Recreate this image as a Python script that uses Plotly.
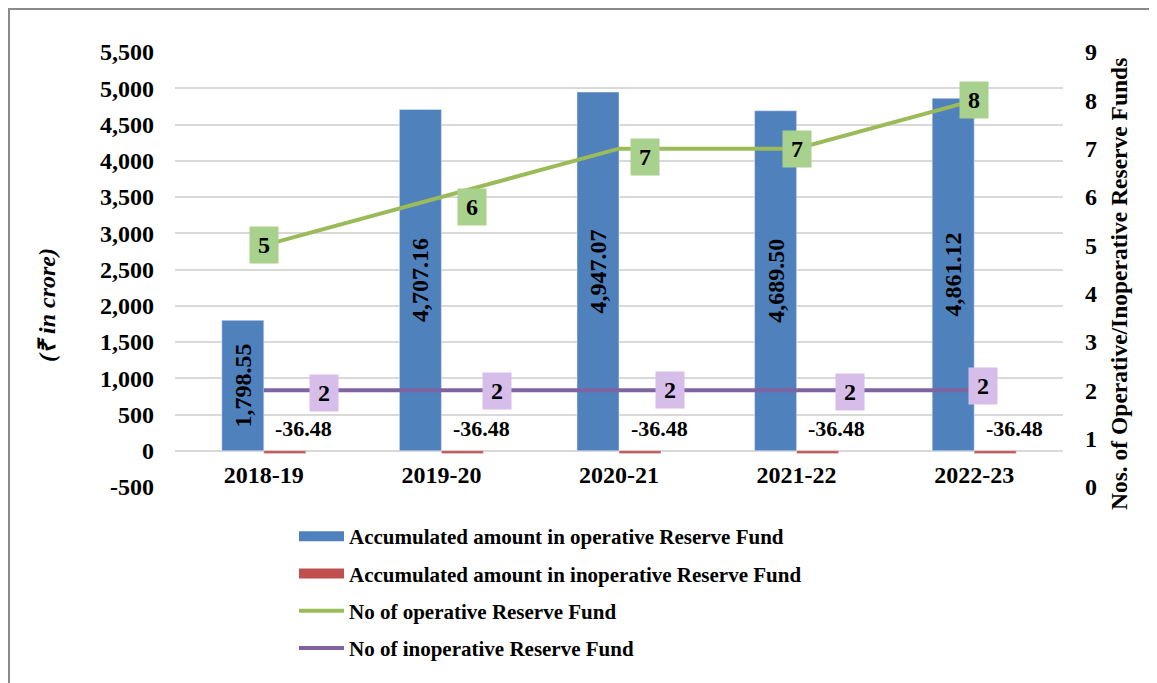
"""Reserve fund chart: accumulated amounts (bars) and number of funds (lines)."""
import plotly.graph_objects as go

YEARS = ["2018-19", "2019-20", "2020-21", "2021-22", "2022-23"]
AMT_OPERATIVE = [1798.55, 4707.16, 4947.07, 4689.50, 4861.12]
AMT_INOPERATIVE = [-36.48, -36.48, -36.48, -36.48, -36.48]
NO_OPERATIVE = [5, 6, 7, 7, 8]
NO_INOPERATIVE = [2, 2, 2, 2, 2]

LEFT_TICKS = list(range(-500, 5501, 500))
RIGHT_TICKS = list(range(0, 10))

NAMES = [
    "Accumulated amount in operative Reserve Fund",
    "Accumulated amount in inoperative Reserve Fund",
    "No of operative Reserve Fund",
    "No of inoperative Reserve Fund",
]

BLUE, RED, GREEN, PURPLE = "#4F81BD", "#C0504D", "#9BBB59", "#8064A2"
GREEN_BOX, PURPLE_BOX = "#A9D18E", "#D7BDEA"
FONT = "Liberation Serif, Times New Roman, serif"

# label nudges in px (as placed in the original chart)
GREEN_SHIFT = [(0, 0), (31, -10), (26, -8), (0, 0), (0, 0)]
PURPLE_SHIFT = [(60, -3), (56, -1), (51, 0), (53, -2), (9, 4)]

# page size and plot box in page pixels; the page body has an 8px margin
W, H = 1157, 683
OFF = 8
L, R, T, B = 175, 1063, 52, 487


def px_x(x):
    return (x - L) / (R - L)


def px_y(y):
    return (B - y) / (B - T)


def fmt(v):
    return f"{v:,.2f}"


fig = go.Figure()

fig.add_trace(
    go.Bar(
        x=YEARS,
        y=AMT_OPERATIVE,
        name=NAMES[0],
        marker_color=BLUE,
        text=[fmt(v) for v in AMT_OPERATIVE],
        textposition="inside",
        insidetextanchor="middle",
        textangle=-90,
        insidetextfont=dict(color="black", size=24, family=FONT, weight="bold"),
        showlegend=False,
    )
)
fig.add_trace(
    go.Bar(
        x=YEARS,
        y=AMT_INOPERATIVE,
        name=NAMES[1],
        marker_color=RED,
        showlegend=False,
    )
)
fig.add_trace(
    go.Scatter(
        x=YEARS,
        y=NO_OPERATIVE,
        name=NAMES[2],
        mode="lines",
        line=dict(color=GREEN, width=4),
        yaxis="y2",
        showlegend=False,
    )
)
fig.add_trace(
    go.Scatter(
        x=YEARS,
        y=NO_INOPERATIVE,
        name=NAMES[3],
        mode="lines",
        line=dict(color=PURPLE, width=4),
        yaxis="y2",
        showlegend=False,
    )
)

# legend entries (wide bar swatches like the original)
for i, (name, color, width) in enumerate(
    zip(NAMES, [BLUE, RED, GREEN, PURPLE], [12, 12, 4, 4])
):
    fig.add_trace(
        go.Scatter(
            x=[None],
            y=[None],
            name=name,
            mode="lines",
            line=dict(color=color, width=width),
            legendgroup=f"g{i}",
        )
    )

annotations = []
for yr, v in zip(YEARS, AMT_INOPERATIVE):
    annotations.append(
        dict(x=yr, y=v, xref="x", yref="y", text=f"{v:.2f}", showarrow=False,
             xshift=40, yshift=25, font=dict(size=22))
    )
for yr, v, (dx, dy) in zip(YEARS, NO_OPERATIVE, GREEN_SHIFT):
    annotations.append(
        dict(x=yr, y=v, xref="x", yref="y2", text=str(v), showarrow=False,
             xshift=dx, yshift=dy, bgcolor=GREEN_BOX, width=20, height=28,
             borderpad=4, font=dict(size=24))
    )
for yr, v, (dx, dy) in zip(YEARS, NO_INOPERATIVE, PURPLE_SHIFT):
    annotations.append(
        dict(x=yr, y=v, xref="x", yref="y2", text=str(v), showarrow=False,
             xshift=dx, yshift=dy, bgcolor=PURPLE_BOX, width=20, height=28,
             borderpad=4, font=dict(size=24))
    )
annotations.append(
    dict(x=px_x(47), y=px_y(305), xref="paper", yref="paper",
         xanchor="center", yanchor="middle",
         text="<i>(₹ in crore)</i>", textangle=-90, showarrow=False,
         font=dict(size=24))
)
annotations.append(
    dict(x=px_x(1119), y=px_y(284), xref="paper", yref="paper",
         xanchor="center", yanchor="middle",
         text="Nos. of Operative/Inoperative Reserve Funds", textangle=-90,
         showarrow=False, font=dict(size=23.5))
)

fig.update_layout(
    width=W - OFF,
    height=H - OFF,
    margin=dict(l=L - OFF, r=W - R, t=T - OFF, b=H - B, pad=0, autoexpand=False),
    paper_bgcolor="white",
    plot_bgcolor="white",
    font=dict(family=FONT, size=24, color="black", weight="bold"),
    barmode="group",
    bargap=0.527,
    bargroupgap=0,
    annotations=annotations,
    legend=dict(
        x=px_x(294),
        y=px_y(516),
        xanchor="left",
        yanchor="top",
        traceorder="grouped",
        tracegroupgap=7,
        itemwidth=45,
        font=dict(size=21),
        bgcolor="rgba(0,0,0,0)",
    ),
    shapes=[
        dict(type="rect", xref="paper", yref="paper",
             x0=px_x(OFF + 1), x1=px_x(1200), y0=px_y(720), y1=px_y(OFF + 1),
             line=dict(color="#8A8A8A", width=2))
    ],
    xaxis=dict(
        anchor="free",
        position=px_y(451),
        showgrid=False,
        showline=False,
        zeroline=False,
        ticks="",
        ticklabelstandoff=7,
        tickfont=dict(size=24),
        automargin=False,
    ),
    yaxis=dict(
        range=[-500, 5500],
        tickvals=LEFT_TICKS,
        ticktext=[f"{v:,}" for v in LEFT_TICKS],
        showgrid=True,
        gridcolor="#D9D9D9",
        gridwidth=1.5,
        zeroline=False,
        showline=False,
        ticks="",
        ticklabelstandoff=20,
        tickfont=dict(size=24),
        automargin=False,
    ),
    yaxis2=dict(
        range=[0, 9],
        tickvals=RIGHT_TICKS,
        overlaying="y",
        side="right",
        showgrid=False,
        zeroline=False,
        showline=False,
        ticks="",
        ticklabelstandoff=21,
        tickfont=dict(size=24),
        automargin=False,
    ),
)

fig.write_html("out.html")
